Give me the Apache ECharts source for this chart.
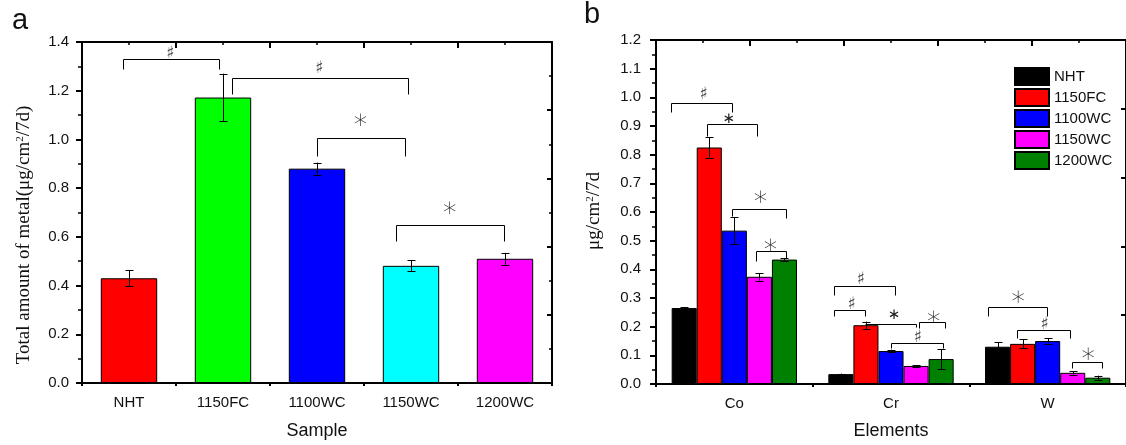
<!DOCTYPE html>
<html><head><meta charset="utf-8">
<script src="https://cdn.jsdelivr.net/npm/echarts@6/dist/echarts.min.js"></script>
<style>html,body{margin:0;padding:0;background:#fff}#c{width:1126px;height:445px}</style>
</head><body><div id="c"></div>
<script>
// ---------- Panel a data ----------
const samplesA = ['NHT', '1150FC', '1100WC', '1150WC', '1200WC'];
const totalA = [0.430, 1.172, 0.880, 0.481, 0.510];
const totalErrA = [0.032, 0.098, 0.025, 0.023, 0.024];
const colorsA = ['#ff0000', '#00ff00', '#0000ff', '#00ffff', '#ff00ff'];
// brackets: [xStart, xEnd, yTop, yLeftEnd, yRightEnd]  (x in category units, 0..5)
const bracketsA = [
  [0.432, 1.461, 1.331, 1.291, 1.291],
  [1.592, 3.464, 1.254, 1.188, 1.188],
  [2.496, 3.432, 1.006, 0.933, 0.933],
  [3.336, 4.493, 0.649, 0.583, 0.583]
];
const marksA = [[0.939, 1.351], [2.524, 1.290], [2.961, 1.077], [3.911, 0.715]];
const markTextA = ['♯', '♯', '∗', '∗'];
const markBigA = [false, false, true, true];

// ---------- Panel b data ----------
const elementsB = ['Co', 'Cr', 'W'];
const groupsB = ['NHT', '1150FC', '1100WC', '1150WC', '1200WC'];
const colorsB = ['#000000', '#ff0000', '#0000ff', '#ff00ff', '#008000'];
const valNHT = [0.265, 0.0345, 0.130];
const val1150FC = [0.825, 0.205, 0.140];
const val1100WC = [0.535, 0.115, 0.150];
const val1150WC = [0.374, 0.063, 0.039];
const val1200WC = [0.434, 0.087, 0.022];
const errNHT = [0.002, 0.002, 0.016];
const err1150FC = [0.036, 0.0125, 0.0155];
const err1100WC = [0.046, 0.005, 0.009];
const err1150WC = [0.013, 0.003, 0.006];
const err1200WC = [0.004, 0.035, 0.007];
const valuesB = [valNHT, val1150FC, val1100WC, val1150WC, val1200WC];
const errorsB = [errNHT, err1150FC, err1100WC, err1150WC, err1200WC];
const bracketsB = [
  [0.097, 0.483, 0.9815, 0.949, 0.949],
  [0.327, 0.644, 0.9056, 0.866, 0.866],
  [0.483, 0.827, 0.612, 0.585, 0.578],
  [0.641, 0.827, 0.464, 0.429, 0.440],
  [1.135, 1.523, 0.343, 0.312, 0.312],
  [1.135, 1.337, 0.2565, 0.238, 0.238],
  [1.337, 1.660, 0.2105, 0.2105, 0.199],
  [1.679, 1.846, 0.215, 0.194, 0.194],
  [1.502, 1.835, 0.1427, 0.124, 0.124],
  [2.118, 2.494, 0.270, 0.238, 0.238],
  [2.306, 2.641, 0.1875, 0.162, 0.162],
  [2.656, 2.848, 0.077, 0.0575, 0.0575]
];
const marksB = [[0.304, 1.010], [0.464, 0.924], [0.666, 0.648], [0.730, 0.481],
  [1.308, 0.366], [1.249, 0.277], [1.519, 0.239], [1.772, 0.230], [1.671, 0.162],
  [2.312, 0.299], [2.481, 0.208], [2.758, 0.101]];
const markTextB = ['♯', '∗', '∗', '∗', '♯', '♯', '∗', '∗', '♯', '∗', '♯', '∗'];
const markBigB = [false, false, true, true, false, false, false, true, false, true, false, true];

// ---------- rendering ----------
const SANS = 'Liberation Sans, Arial, sans-serif';
const SERIF = 'Liberation Serif, Times New Roman, serif';
const chart = echarts.init(document.getElementById('c'), null, {renderer: 'canvas'});

const lineBlack = {color: '#000', width: 2};
function frameAxisX(grid, pos, max, interval, inside, len, minor) {
  return {
    type: 'value', gridIndex: grid, position: pos, min: 0, max: max, interval: interval,
    axisLine: {show: true, onZero: false, lineStyle: lineBlack},
    axisTick: {show: true, inside: inside, length: len, lineStyle: {color: '#000', width: 2}},
    minorTick: {show: minor, splitNumber: 2, length: 3, lineStyle: {color: '#000', width: 1.5}},
    axisLabel: {show: false}, splitLine: {show: false}, minorSplitLine: {show: false}
  };
}
function catAxis(grid, data, name, gap) {
  return {
    type: 'category', gridIndex: grid, data: data, position: 'bottom',
    axisLine: {lineStyle: lineBlack, onZero: false},
    axisTick: {alignWithLabel: true, length: 6, lineStyle: {color: '#000', width: 2}},
    axisLabel: {fontSize: 15, color: '#111', fontFamily: SANS, margin: 12},
    name: name, nameLocation: 'middle', nameGap: gap,
    nameTextStyle: {fontSize: 18, color: '#111', fontFamily: SANS}
  };
}
function valAxisY(grid, max, interval, margin) {
  return {
    type: 'value', gridIndex: grid, min: 0, max: max, interval: interval, position: 'left',
    axisLine: {show: true, lineStyle: lineBlack, onZero: false},
    axisTick: {show: true, length: 6, lineStyle: {color: '#000', width: 2}},
    minorTick: {show: true, splitNumber: 2, length: 4, lineStyle: {color: '#000', width: 1.5}},
    axisLabel: {fontSize: 15, color: '#111', fontFamily: SANS, margin: margin,
      formatter: v => v.toFixed(1)},
    splitLine: {show: false}, minorSplitLine: {show: false}
  };
}
function rightAxisY(grid, max, interval, minor) {
  return {
    type: 'value', gridIndex: grid, position: 'right', min: 0, max: max, interval: interval,
    axisLine: {show: true, lineStyle: lineBlack, onZero: false},
    axisTick: {show: true, inside: true, length: 5, lineStyle: {color: '#000', width: 2}},
    minorTick: {show: minor, splitNumber: 2, length: 3, lineStyle: {color: '#000', width: 1.5}},
    axisLabel: {show: false}, splitLine: {show: false}, minorSplitLine: {show: false}
  };
}

function bracketRender(params, api) {
  const a = api.coord([api.value(0), api.value(3)]);
  const b = api.coord([api.value(0), api.value(2)]);
  const c = api.coord([api.value(1), api.value(2)]);
  const d = api.coord([api.value(1), api.value(4)]);
  const r = p => [Math.round(p[0]) + 0.5, Math.round(p[1]) + 0.5];
  return {type: 'polyline', shape: {points: [r(a), r(b), r(c), r(d)]},
    style: {stroke: '#000', lineWidth: 1, fill: null}};
}
function markRender(texts, bigs) {
  return function (params, api) {
    const p = api.coord([api.value(0), api.value(1)]);
    const t = texts[params.dataIndex];
    const sharp = t === '♯';
    const big = bigs[params.dataIndex];
    const size = sharp ? 17 : (big ? 27 : 15);
    return {type: 'text', x: p[0], y: p[1],
      style: {text: t, fontSize: size, fontFamily: 'DejaVu Sans',
        fontWeight: (sharp || !big) ? 'normal' : 200,
        fill: sharp ? '#444' : '#222', align: 'center', verticalAlign: 'middle'}};
  };
}
function errRender(seriesPos, count) {
  return function (params, api) {
    const i = api.value(0), v = api.value(1), e = api.value(2);
    const band = api.size([1, 0])[0];
    const off = count > 1 ? (seriesPos - (count - 1) / 2) * band * 0.8 / count : 0;
    const t = api.coord([i, v + e]), b = api.coord([i, v - e]);
    const x = Math.round(t[0] + off) + 0.5;
    const hw = 4;
    const ls = {stroke: '#000', lineWidth: 1};
    return {type: 'group', children: [
      {type: 'line', shape: {x1: x, y1: t[1], x2: x, y2: b[1]}, style: ls},
      {type: 'line', shape: {x1: x - hw, y1: Math.round(t[1]) + 0.5, x2: x + hw, y2: Math.round(t[1]) + 0.5}, style: ls},
      {type: 'line', shape: {x1: x - hw, y1: Math.round(b[1]) + 0.5, x2: x + hw, y2: Math.round(b[1]) + 0.5}, style: ls}
    ]};
  };
}

const series = [];
series.push({
  type: 'bar', name: 'Total', xAxisIndex: 0, yAxisIndex: 0, barWidth: '60%',
  data: totalA.map((v, i) => ({value: v, itemStyle: {color: colorsA[i]}})),
  itemStyle: {borderColor: '#000', borderWidth: 1}, silent: true
});
series.push({
  type: 'custom', name: 'errA', xAxisIndex: 0, yAxisIndex: 0, z: 5,
  renderItem: errRender(0, 1), encode: {x: 0, y: 1},
  data: totalA.map((v, i) => [i, v, totalErrA[i]])
});
series.push({
  type: 'custom', name: 'brA', xAxisIndex: 2, yAxisIndex: 0, z: 6,
  renderItem: bracketRender, encode: {x: [0, 1], y: [2, 3, 4]}, data: bracketsA, clip: false
});
series.push({
  type: 'custom', name: 'mkA', xAxisIndex: 2, yAxisIndex: 0, z: 6,
  renderItem: markRender(markTextA, markBigA), encode: {x: 0, y: 1}, data: marksA, clip: false
});
groupsB.forEach((g, s) => {
  series.push({
    type: 'bar', name: g, xAxisIndex: 3, yAxisIndex: 2, barGap: '0%', barCategoryGap: '20%',
    data: valuesB[s], itemStyle: {color: colorsB[s], borderColor: '#000', borderWidth: 1}, silent: true
  });
});
groupsB.forEach((g, s) => {
  series.push({
    type: 'custom', name: 'errB' + s, xAxisIndex: 3, yAxisIndex: 2, z: 5,
    renderItem: errRender(s, groupsB.length), encode: {x: 0, y: 1},
    data: valuesB[s].map((v, i) => [i, v, errorsB[s][i]])
  });
});
series.push({
  type: 'custom', name: 'brB', xAxisIndex: 5, yAxisIndex: 2, z: 6,
  renderItem: bracketRender, encode: {x: [0, 1], y: [2, 3, 4]}, data: bracketsB, clip: false
});
series.push({
  type: 'custom', name: 'mkB', xAxisIndex: 5, yAxisIndex: 2, z: 6,
  renderItem: markRender(markTextB, markBigB), encode: {x: 0, y: 1}, data: marksB, clip: false
});

const titleRich = {
  n: {fontSize: 19, fontFamily: SERIF, fill: '#111'},
  s: {fontSize: 11, fontFamily: SERIF, fill: '#111', verticalAlign: 'top', padding: [0, 0, 8, 0]}
};

const option = {
  animation: false,
  backgroundColor: '#fff',
  grid: [
    {left: 82, top: 42, width: 470, height: 345, containLabel: false},
    {left: 656, top: 40, width: 473, height: 348, containLabel: false}
  ],
  xAxis: [
    catAxis(0, samplesA, 'Sample', 39),
    frameAxisX(0, 'bottom', 5, 1, false, 3, false),
    frameAxisX(0, 'top', 5, 1, true, 6, true),
    catAxis(1, elementsB, 'Elements', 38),
    frameAxisX(1, 'bottom', 3, 1, false, 3, false),
    frameAxisX(1, 'top', 3, 0.6, true, 6, true)
  ],
  yAxis: [
    valAxisY(0, 1.4, 0.2, 13),
    rightAxisY(0, 1.4, 0.28, true),
    valAxisY(1, 1.2, 0.1, 15),
    rightAxisY(1, 1.2, 0.24, false)
  ],
  legend: {
    data: groupsB, orient: 'vertical', left: 1009, top: 62,
    itemWidth: 34, itemHeight: 17, itemGap: 2, icon: 'rect',
    textStyle: {fontSize: 15, fontFamily: SANS, color: '#111', lineHeight: 17},
    selectedMode: false
  },
  graphic: [
    {type: 'text', left: 12, top: 6, style: {text: 'a', fontSize: 29, fontFamily: SANS, fill: '#111'}},
    {type: 'text', left: 584, top: 0, style: {text: 'b', fontSize: 29, fontFamily: SANS, fill: '#111'}},
    {type: 'text', x: 24, y: 235, rotation: Math.PI / 2,
      style: {text: '{n|Total amount of metal(μg/cm}{s|2}{n|/7d)}', rich: titleRich,
        align: 'center', verticalAlign: 'middle'}},
    {type: 'text', x: 594, y: 211, rotation: Math.PI / 2,
      style: {text: '{n|μg/cm}{s|2}{n|/7d}', rich: titleRich,
        align: 'center', verticalAlign: 'middle'}}
  ],
  series: series
};
chart.setOption(option);
</script>
</body></html>
